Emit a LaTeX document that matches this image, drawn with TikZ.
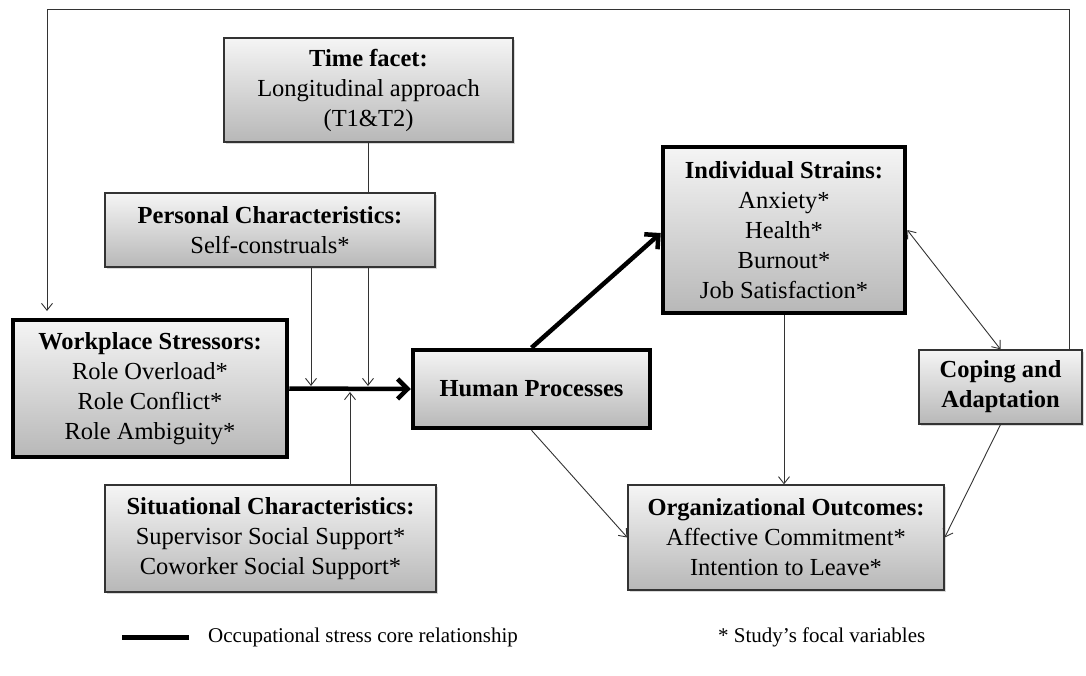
\documentclass[tikz,border=0pt]{standalone}
\usepackage{fontspec}
\setmainfont{Liberation Serif}
\usetikzlibrary{arrows.meta,shadows,calc}
\begin{document}
\begin{tikzpicture}[x=1pt,y=-1pt,
  box/.style={draw=black!80, line width=1.3pt, top color=black!4, bottom color=black!28,
    align=center, inner sep=0pt, font=\fontsize{24.5}{30}\selectfont,
    drop shadow={shadow xshift=2pt,shadow yshift=-2pt,opacity=0.3}},
  corebox/.style={box, draw=black, line width=4.5pt},
  thin/.style={draw=black!80, line width=0.9pt, -{Straight Barb[length=7pt,width=11pt]}},
  thinboth/.style={draw=black!80, line width=0.9pt, {Straight Barb[length=7pt,width=11pt]}-{Straight Barb[length=7pt,width=11pt]}},
  core/.style={line width=4.5pt, -{Straight Barb[length=10pt,width=20pt]}},
  legend/.style={font=\fontsize{21}{25}\selectfont, anchor=west, inner sep=0pt},
]
\useasboundingbox (0,0) rectangle (1086,675);

\node[box, minimum width=289pt, minimum height=104pt] (time) at (368.5,90)
  {\textbf{Time facet:}\\Longitudinal approach\\(T1\&T2)};
\node[box, minimum width=330pt, minimum height=74pt] (pers) at (270,230)
  {\textbf{Personal Characteristics:}\\Self-construals*};
\node[corebox, minimum width=274pt, minimum height=137pt] (work) at (150,388.5)
  {\textbf{Workplace Stressors:}\\Role Overload*\\Role Conflict*\\Role Ambiguity*};
\node[box, minimum width=331pt, minimum height=107pt] (sit) at (270.5,538.5)
  {\textbf{Situational Characteristics:}\\Supervisor Social Support*\\Coworker Social Support*};
\node[corebox, minimum width=237pt, minimum height=78pt] (human) at (531.5,389)
  {\textbf{Human Processes}};
\node[corebox, minimum width=242pt, minimum height=166pt] (indiv) at (784,230)
  {\textbf{Individual Strains:}\\Anxiety*\\Health*\\Burnout*\\Job Satisfaction*};
\node[box, minimum width=163pt, minimum height=74pt] (cope) at (1000.5,387)
  {\textbf{Coping and}\\\textbf{Adaptation}};
\node[box, minimum width=316pt, minimum height=105pt] (org) at (786,537.5)
  {\textbf{Organizational Outcomes:}\\Affective Commitment*\\Intention to Leave*};

% junction points on the core relationship
\coordinate (j1) at (311,386);
\coordinate (j2) at (368,386);
\coordinate (j3) at (350,392);
% feedback loop corners
\coordinate (fbR) at (1069,9);
\coordinate (fbL) at (47,9);
\coordinate (fbEnd) at (47,311);

\draw[draw=black!80, line width=0.9pt] (time.south) -- (time.south |- pers.north);
\draw[thin] (j1 |- pers.south) -- (j1);
\draw[thin] (j2 |- pers.south) -- (j2);
\draw[thin] (j3 |- sit.north) -- (j3);

\draw[core] (work.east) -- (human.west);
\draw[core] (human.north) -- ($(indiv.west)+(0,3)$);

\draw[thin] (indiv.south) -- (indiv.south |- org.north);
\draw[thin] (human.south) -- (org.west);
\draw[thin] (cope.south) -- (org.east);
\draw[thinboth] (indiv.east) -- (cope.north);
\draw[thin] (fbR |- cope.north) -- (fbR) -- (fbL) -- (fbEnd);

% legend
\coordinate (legA) at (122,637);
\coordinate (legB) at (189,637);
\draw[line width=5pt] (legA) -- (legB);
\node[legend] (legT1) at (208,637) {Occupational stress core relationship};
\node[legend] (legT2) at (718,637) {* Study’s focal variables};
\end{tikzpicture}
\end{document}
